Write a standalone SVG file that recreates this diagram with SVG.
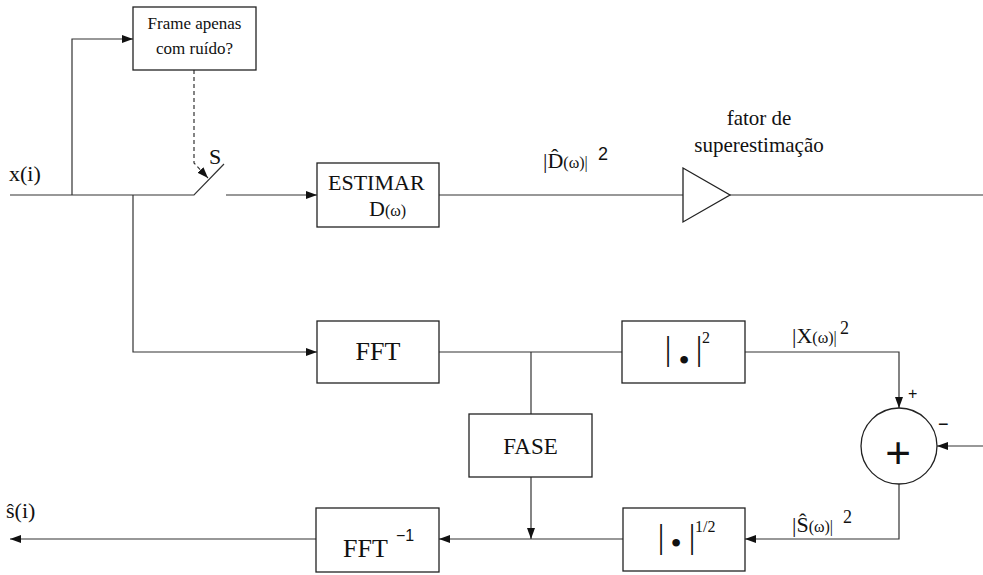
<svg xmlns="http://www.w3.org/2000/svg" width="983" height="575" viewBox="0 0 983 575">
  <defs>
    <marker id="arrow" markerUnits="userSpaceOnUse" markerWidth="12" markerHeight="8" refX="11" refY="4" orient="auto">
      <path d="M0,0 L11,4 L0,8 Z" fill="#111"/>
    </marker>
  </defs>
  <style>
    .blk { fill: #fff; stroke: #222; stroke-width: 1.3; }
    .wire { fill: none; stroke: #333; stroke-width: 1.2; }
    .dash { fill: none; stroke: #333; stroke-width: 1.2; stroke-dasharray: 4 3; }
    .t { font-family: "Liberation Serif", "Times New Roman", serif; fill: #111; }
    .s { font-family: "Liberation Sans", Arial, sans-serif; fill: #111; }
  </style>
  <rect width="983" height="575" fill="#fff"/>

  <!-- connectors -->
  <g id="connectors">
    <!-- input line and switch -->
    <path class="wire" d="M10,195 H194 L224,164"/>
    <path class="wire" d="M72,195 V39 H133" marker-end="url(#arrow)"/>
    <path class="dash" d="M194,70 V163 L208,178" marker-end="url(#arrow)"/>
    <path class="wire" d="M226,195 H317" marker-end="url(#arrow)"/>
    <!-- noise estimate path -->
    <path class="wire" d="M439,195 H683"/>
    <path class="wire" d="M730,195 H983"/>
    <!-- FFT branch -->
    <path class="wire" d="M133,195 V352 H317" marker-end="url(#arrow)"/>
    <path class="wire" d="M439,352 H622"/>
    <path class="wire" d="M531,352 V414"/>
    <path class="wire" d="M745,352 H899 V408" marker-end="url(#arrow)"/>
    <path class="wire" d="M983,446 H937" marker-end="url(#arrow)"/>
    <path class="wire" d="M899,484 V539 H745" marker-end="url(#arrow)"/>
    <path class="wire" d="M531,477 V539" marker-end="url(#arrow)"/>
    <path class="wire" d="M623,539 H439" marker-end="url(#arrow)"/>
    <path class="wire" d="M316,539 H10" marker-end="url(#arrow)"/>
  </g>

  <!-- signal labels -->
  <g id="labels">
    <text class="t" x="9" y="181" font-size="22">x(i)</text>
    <text class="t" x="209" y="164" font-size="22">S</text>
    <text class="t" x="543" y="168" font-size="22">|D̂<tspan font-size="16">(ω)|</tspan></text>
    <text class="s" x="598" y="160" font-size="18">2</text>
    <text class="t" x="759" y="125" font-size="21" text-anchor="middle">fator de</text>
    <text class="t" x="759" y="152" font-size="21" text-anchor="middle">superestimação</text>
    <text class="t" x="792" y="343" font-size="22">|X<tspan font-size="16">(ω)|</tspan></text>
    <text class="t" x="840" y="334" font-size="18">2</text>
    <text class="s" x="908" y="399" font-size="16">+</text>
    <text class="s" x="938" y="430" font-size="18">−</text>
    <text class="t" x="792" y="532" font-size="22">|Ŝ<tspan font-size="16">(ω)|</tspan></text>
    <text class="t" x="843" y="523" font-size="18">2</text>
    <text class="t" x="6" y="518" font-size="22">ŝ(i)</text>
  </g>

  <!-- blocks -->
  <g id="noise-detector">
    <rect class="blk" x="133" y="7" width="123" height="63"/>
    <text class="t" x="194.5" y="29" font-size="17" text-anchor="middle">Frame apenas</text>
    <text class="t" x="194.5" y="54" font-size="17" text-anchor="middle">com ruído?</text>
  </g>
  <g id="estimate">
    <rect class="blk" x="317" y="163" width="122" height="64"/>
    <text class="t" x="328" y="190" font-size="22">ESTIMAR</text>
    <text class="t" x="369" y="216" font-size="22">D<tspan font-size="16">(ω)</tspan></text>
  </g>
  <g id="gain">
    <path class="blk" d="M683,168 L730,195 L683,222 Z"/>
  </g>
  <g id="fft">
    <rect class="blk" x="317" y="321" width="122" height="62"/>
    <text class="t" x="378" y="360" font-size="26" text-anchor="middle">FFT</text>
  </g>
  <g id="mag-squared">
    <rect class="blk" x="622" y="321" width="123" height="62"/>
    <text class="t" x="668" y="360" font-size="33" text-anchor="middle">|</text>
    <text class="t" x="684" y="371" font-size="32" text-anchor="middle">•</text>
    <text class="t" x="699" y="360" font-size="33" text-anchor="middle">|</text>
    <text class="t" x="702" y="343" font-size="16">2</text>
  </g>
  <g id="phase">
    <rect class="blk" x="469" y="414" width="123" height="63"/>
    <text class="t" x="530.5" y="454" font-size="23" text-anchor="middle">FASE</text>
  </g>
  <g id="subtractor">
    <circle class="blk" cx="899" cy="446" r="38"/>
    <text class="s" x="898" y="468" font-size="44" text-anchor="middle">+</text>
  </g>
  <g id="mag-root">
    <rect class="blk" x="623" y="508" width="122" height="63"/>
    <text class="t" x="661" y="548" font-size="33" text-anchor="middle">|</text>
    <text class="t" x="676" y="554" font-size="32" text-anchor="middle">•</text>
    <text class="t" x="692" y="548" font-size="33" text-anchor="middle">|</text>
    <text class="t" x="695" y="532" font-size="16">1/2</text>
  </g>
  <g id="ifft">
    <rect class="blk" x="316" y="508" width="123" height="64"/>
    <text class="t" x="343" y="557" font-size="26">FFT</text>
    <text class="s" x="396" y="541" font-size="16">−1</text>
  </g>
</svg>
